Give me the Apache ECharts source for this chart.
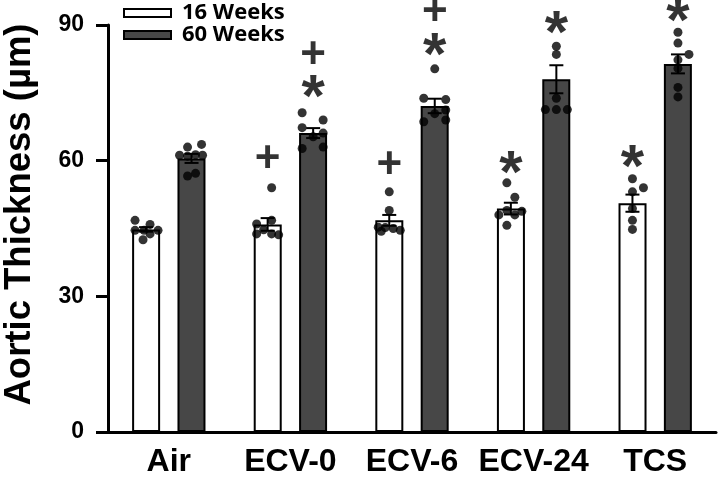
<!DOCTYPE html>
<html>
<head>
    <meta charset="utf-8">
    <title>Aortic Thickness</title>
    <script src="https://cdn.jsdelivr.net/npm/echarts@6/dist/echarts.min.js"></script>
    <style>
        html, body { margin: 0; padding: 0; background: #fff; }
        #main { width: 720px; height: 481px; }
    </style>
</head>
<body>
<div id="main"></div>
<script>
    // groups on the x axis
    var categories = ['Air', 'ECV-0', 'ECV-6', 'ECV-24', 'TCS'];

    // bar heights (mean) and SEM
    var mean16 = [44.8, 45.9, 46.8, 49.4, 50.6];
    var sem16  = [0.5, 1.4, 1.2, 1.3, 1.9];
    var mean60 = [60.5, 66.1, 72.1, 78.0, 81.4];
    var sem60  = [1.0, 1.1, 1.6, 3.1, 2.1];

    // individual animals
    var dots16 = [
        [46.8, 45.9, 44.6, 44.6, 44.6, 42.5, 43.8],
        [54.0, 46.0, 46.8, 44.7, 43.8, 43.8, 43.6],
        [53.1, 49.0, 45.3, 45.2, 45.0, 44.6, 44.4],
        [55.1, 51.9, 48.0, 49.0, 48.0, 48.8, 45.7],
        [56.0, 54.0, 53.1, 49.4, 46.8, 44.8]
    ];
    var dots60 = [
        [63.0, 63.6, 61.2, 61.0, 61.3, 61.2, 56.6, 57.2],
        [70.6, 67.3, 69.0, 66.1, 65.3, 62.7, 63.0],
        [80.3, 73.8, 73.5, 70.4, 71.2, 68.6, 69.0],
        [85.3, 83.5, 73.8, 71.3, 71.3, 71.3],
        [88.4, 86.0, 83.5, 82.3, 80.4, 76.2, 74.1]
    ];
    // horizontal jitter of the dots (px)
    var jit16 = [
        [-11, 4, -11, -2, 12, -3, 4],
        [4, -11, 4, -4, -11, 4, 11],
        [0, 0, -11, -4, 4, 11, -8],
        [-4, 4, -12, -4, 4, 11, -4],
        [0, 11, 0, 0, 0, 0]
    ];
    var jit60 = [
        [-4, 10, -12, -4, 4, 11, -4, 4],
        [-11, -11, 10, 10, 0, -11, 10],
        [0, -11, 11, 0, 11, -11, 11],
        [0, 0, 0, -11, 0, 11],
        [0, 0, 11, 0, 0, 0, 0]
    ];

    // significance marks (y where the mark sits), null = none
    var plus16 = [null, 60.2, 58.8, null, null];
    var star16 = [null, null, null, 59.7, 61.0];
    var plus60 = [null, 83.1, 92.6, null, null];
    var star60 = [null, 76.5, 85.6, 90.5, 93.3];

    var yTicks = [0, 30, 60, 90];

    var off16 = -22.75, off60 = 22.75;
    var font = '"Liberation Sans", Arial, sans-serif';

    function dotData(dots, jit, off) {
        var out = [];
        for (var i = 0; i < dots.length; i++) {
            for (var j = 0; j < dots[i].length; j++) {
                out.push({value: [i, dots[i][j]], symbolOffset: [off + jit[i][j], 0]});
            }
        }
        return out;
    }

    function markData(arr) {
        var out = [];
        for (var i = 0; i < arr.length; i++) {
            if (arr[i] != null) out.push([i, arr[i]]);
        }
        return out;
    }

    function errData(mean, sem) {
        var out = [];
        for (var i = 0; i < mean.length; i++) out.push([i, mean[i], sem[i]]);
        return out;
    }

    function errRender(off) {
        return function (params, api) {
            var i = api.value(0);
            var hi = api.coord([i, api.value(1) + api.value(2)]);
            var lo = api.coord([i, api.value(1) - api.value(2)]);
            var x = hi[0] + off;
            var st = {stroke: '#000', lineWidth: 2};
            return {
                type: 'group',
                children: [
                    {type: 'line', shape: {x1: x, y1: hi[1], x2: x, y2: lo[1]}, style: st},
                    {type: 'line', shape: {x1: x - 7, y1: hi[1], x2: x + 7, y2: hi[1]}, style: st},
                    {type: 'line', shape: {x1: x - 7, y1: lo[1], x2: x + 7, y2: lo[1]}, style: st}
                ]
            };
        };
    }

    function markSeries(arr, txt, off, size, dy) {
        return {
            type: 'scatter',
            data: markData(arr),
            symbolSize: 1,
            itemStyle: {color: 'rgba(0,0,0,0)'},
            symbolOffset: [off, 0],
            clip: false,
            silent: true,
            z: 6,
            label: {
                show: true,
                position: 'inside',
                offset: [0, dy],
                formatter: txt,
                color: '#000',
                fontFamily: font,
                fontWeight: 'bold',
                fontSize: size
            }
        };
    }

    var myChart = echarts.init(document.getElementById('main'), null, {renderer: 'canvas'});

    var option = {
        animation: false,
        backgroundColor: '#fff',
        grid: {left: 108, right: 4, top: 25, bottom: 49, outerBoundsMode: 'none'},
        legend: {
            data: ['16 Weeks', '60 Weeks'],
            orient: 'vertical',
            left: 123,
            top: 2,
            padding: 0,
            itemWidth: 47,
            itemHeight: 8,
            itemGap: 0,
            icon: 'rect',
            textStyle: {
                fontFamily: '"Open Sans", sans-serif',
                fontWeight: 'bold',
                fontSize: 22,
                lineHeight: 21,
                color: '#000',
                padding: [0, 0, 0, 6]
            }
        },
        xAxis: {
            type: 'category',
            data: categories,
            axisLine: {lineStyle: {color: '#000', width: 3}},
            axisTick: {alignWithLabel: true, length: 12, lineStyle: {color: '#000', width: 3}},
            axisLabel: {
                interval: 0,
                margin: 14,
                color: '#000',
                fontFamily: font,
                fontWeight: 'bold',
                fontSize: 32
            }
        },
        yAxis: {
            type: 'value',
            min: yTicks[0],
            max: yTicks[yTicks.length - 1],
            interval: 30,
            name: 'Aortic Thickness (µm)',
            nameLocation: 'middle',
            nameGap: 70,
            nameRotate: 90,
            nameTextStyle: {
                color: '#000',
                fontFamily: font,
                fontWeight: 'bold',
                fontSize: 36.5,
                padding: [0, 0, 0, 28]
            },
            splitLine: {show: false},
            axisLine: {show: true, lineStyle: {color: '#000', width: 3}},
            axisTick: {show: true, length: 12, lineStyle: {color: '#000', width: 3}},
            axisLabel: {
                margin: 24,
                color: '#000',
                fontFamily: font,
                fontWeight: 'bold',
                fontSize: 23
            }
        },
        series: [
            {
                name: '16 Weeks',
                type: 'bar',
                data: mean16,
                barWidth: 28,
                barGap: '62%',
                z: 2,
                itemStyle: {color: '#ffffff', borderColor: '#000', borderWidth: 2}
            },
            {
                name: '60 Weeks',
                type: 'bar',
                data: mean60,
                barWidth: 28,
                z: 2,
                itemStyle: {color: '#474747', borderColor: '#000', borderWidth: 2}
            },
            {
                type: 'scatter',
                data: dotData(dots16, jit16, off16),
                symbolSize: 9,
                itemStyle: {color: '#000'},
                z: 3
            },
            {
                type: 'scatter',
                data: dotData(dots60, jit60, off60),
                symbolSize: 9,
                itemStyle: {color: '#000'},
                z: 3
            },
            {
                type: 'custom',
                data: errData(mean16, sem16),
                renderItem: errRender(off16),
                z: 4
            },
            {
                type: 'custom',
                data: errData(mean60, sem60),
                renderItem: errRender(off60),
                z: 4
            },
            markSeries(plus16, '+', off16, 44, 0),
            markSeries(star16, '*', off16, 60, 13),
            markSeries(plus60, '+', off60, 44, 0),
            markSeries(star60, '*', off60, 60, 13)
        ]
    };

    myChart.setOption(option);
</script>
</body>
</html>
